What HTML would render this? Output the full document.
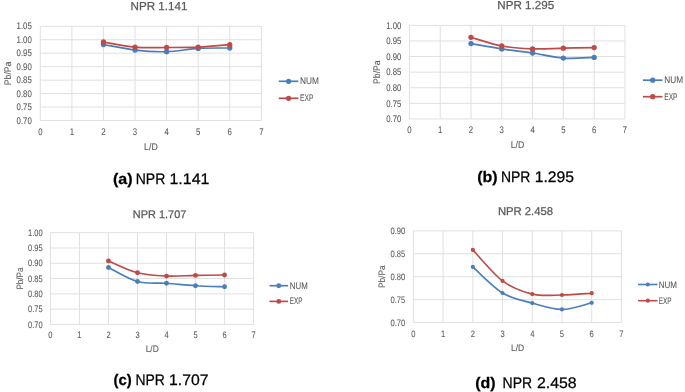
<!DOCTYPE html>
<html lang="en">
<head>
<meta charset="utf-8">
<title>Pb/Pa versus L/D for four nozzle pressure ratios</title>
<style>
html,body{margin:0;padding:0;background:#fff;}
body{width:685px;height:392px;overflow:hidden;}
svg{display:block;font-family:"Liberation Sans", sans-serif;text-rendering:geometricPrecision;}
</style>
</head>
<body>
<svg width="685" height="392" viewBox="0 0 685 392">
<defs><filter id="soft" x="0" y="0" width="100%" height="100%" filterUnits="userSpaceOnUse" primitiveUnits="userSpaceOnUse"><feGaussianBlur stdDeviation="0.45"/></filter><filter id="softer" x="0" y="0" width="100%" height="100%" filterUnits="userSpaceOnUse" primitiveUnits="userSpaceOnUse"><feGaussianBlur stdDeviation="0.55"/></filter></defs>
<rect width="685" height="392" fill="#ffffff"/>
<g filter="url(#soft)">
<g>
<path d="M40.3 26.3H261.35M40.3 39.76H261.35M40.3 53.21H261.35M40.3 66.67H261.35M40.3 80.13H261.35M40.3 93.59H261.35M40.3 107.04H261.35M40.3 120.5H261.35M40.3 26.3V120.5M71.88 26.3V120.5M103.46 26.3V120.5M135.04 26.3V120.5M166.61 26.3V120.5M198.19 26.3V120.5M229.77 26.3V120.5M261.35 26.3V120.5" stroke="#e0e0e0" stroke-width="1" fill="none" filter="url(#softer)"/>
<g font-size="9.6" fill="#595959" stroke="#595959" stroke-width="0.08" text-anchor="end">
<text x="31.8" y="29.45" textLength="15.2" lengthAdjust="spacingAndGlyphs">1.05</text>
<text x="31.8" y="42.91" textLength="15.2" lengthAdjust="spacingAndGlyphs">1.00</text>
<text x="31.8" y="56.36" textLength="15.2" lengthAdjust="spacingAndGlyphs">0.95</text>
<text x="31.8" y="69.82" textLength="15.2" lengthAdjust="spacingAndGlyphs">0.90</text>
<text x="31.8" y="83.28" textLength="15.2" lengthAdjust="spacingAndGlyphs">0.85</text>
<text x="31.8" y="96.73" textLength="15.2" lengthAdjust="spacingAndGlyphs">0.80</text>
<text x="31.8" y="110.19" textLength="15.2" lengthAdjust="spacingAndGlyphs">0.75</text>
<text x="31.8" y="123.65" textLength="15.2" lengthAdjust="spacingAndGlyphs">0.70</text>
</g>
<g font-size="9.6" fill="#595959" stroke="#595959" stroke-width="0.08" text-anchor="middle">
<text x="40.3" y="135.25" textLength="4.35" lengthAdjust="spacingAndGlyphs">0</text>
<text x="71.88" y="135.25" textLength="4.35" lengthAdjust="spacingAndGlyphs">1</text>
<text x="103.46" y="135.25" textLength="4.35" lengthAdjust="spacingAndGlyphs">2</text>
<text x="135.04" y="135.25" textLength="4.35" lengthAdjust="spacingAndGlyphs">3</text>
<text x="166.61" y="135.25" textLength="4.35" lengthAdjust="spacingAndGlyphs">4</text>
<text x="198.19" y="135.25" textLength="4.35" lengthAdjust="spacingAndGlyphs">5</text>
<text x="229.77" y="135.25" textLength="4.35" lengthAdjust="spacingAndGlyphs">6</text>
<text x="261.35" y="135.25" textLength="4.35" lengthAdjust="spacingAndGlyphs">7</text>
</g>
<text x="150.9" y="150.35" font-size="9.6" fill="#595959" stroke="#595959" stroke-width="0.08" text-anchor="middle" textLength="13.6" lengthAdjust="spacingAndGlyphs">L/D</text>
<text transform="translate(11.28 73.4) rotate(-90)" x="0" y="0" font-size="9.6" fill="#595959" stroke="#595959" stroke-width="0.08" text-anchor="middle" textLength="23.6" lengthAdjust="spacingAndGlyphs">Pb/Pa</text>
<text x="159" y="9.8" font-size="11.6" fill="#595959" stroke="#595959" stroke-width="0.25" text-anchor="middle" textLength="57" lengthAdjust="spacingAndGlyphs">NPR 1.141</text>
<path d="M103.46 44.5 C108.72 45.43 124.51 48.9 135.04 50.1 C145.56 51.3 156.09 51.98 166.61 51.7 C177.14 51.42 187.67 49.02 198.19 48.4 C208.72 47.78 224.51 48.07 229.77 48" stroke="#4a7ebb" stroke-width="1.7" fill="none" stroke-linecap="round" stroke-linejoin="round"/>
<g fill="#4a7ebb"><circle cx="103.46" cy="44.5" r="2.65"/><circle cx="135.04" cy="50.1" r="2.65"/><circle cx="166.61" cy="51.7" r="2.65"/><circle cx="198.19" cy="48.4" r="2.65"/><circle cx="229.77" cy="48" r="2.65"/></g>
<path d="M103.46 42 C108.72 42.85 124.51 46.18 135.04 47.1 C145.56 48.02 156.09 47.5 166.61 47.5 C177.14 47.5 187.67 47.57 198.19 47.1 C208.72 46.63 224.51 45.1 229.77 44.7" stroke="#be4b48" stroke-width="1.7" fill="none" stroke-linecap="round" stroke-linejoin="round"/>
<g fill="#be4b48"><circle cx="103.46" cy="42" r="2.65"/><circle cx="135.04" cy="47.1" r="2.65"/><circle cx="166.61" cy="47.5" r="2.65"/><circle cx="198.19" cy="47.1" r="2.65"/><circle cx="229.77" cy="44.7" r="2.65"/></g>
<path d="M278.8 81.3H298.4" stroke="#4a7ebb" stroke-width="1.7"/>
<circle cx="288.6" cy="81.3" r="2.65" fill="#4a7ebb"/>
<text x="300.1" y="84.45" font-size="9.6" fill="#595959" stroke="#595959" stroke-width="0.08" textLength="18.9" lengthAdjust="spacingAndGlyphs">NUM</text>
<path d="M278.8 98.3H298.4" stroke="#be4b48" stroke-width="1.7"/>
<circle cx="288.6" cy="98.3" r="2.65" fill="#be4b48"/>
<text x="300.1" y="101.45" font-size="9.6" fill="#595959" stroke="#595959" stroke-width="0.08" textLength="13.23" lengthAdjust="spacingAndGlyphs">EXP</text>
<g font-size="15.3" fill="#000" stroke="#000" stroke-width="0.25">
<text x="112.91" y="183.9" textLength="19.58" lengthAdjust="spacingAndGlyphs" font-weight="bold">(a)</text>
<text x="135.71" y="183.9" textLength="29.6" lengthAdjust="spacingAndGlyphs">NPR</text>
<text x="169.47" y="183.9" textLength="40" lengthAdjust="spacingAndGlyphs">1.141</text>
</g>
</g>
<g>
<path d="M409.4 25.35H624.95M409.4 40.95H624.95M409.4 56.55H624.95M409.4 72.15H624.95M409.4 87.75H624.95M409.4 103.35H624.95M409.4 118.95H624.95M409.4 25.35V118.95M440.19 25.35V118.95M470.99 25.35V118.95M501.78 25.35V118.95M532.57 25.35V118.95M563.36 25.35V118.95M594.16 25.35V118.95M624.95 25.35V118.95" stroke="#e0e0e0" stroke-width="1" fill="none" filter="url(#softer)"/>
<g font-size="9.6" fill="#595959" stroke="#595959" stroke-width="0.08" text-anchor="end">
<text x="401.3" y="28.5" textLength="15.1" lengthAdjust="spacingAndGlyphs">1.00</text>
<text x="401.3" y="44.1" textLength="15.1" lengthAdjust="spacingAndGlyphs">0.95</text>
<text x="401.3" y="59.7" textLength="15.1" lengthAdjust="spacingAndGlyphs">0.90</text>
<text x="401.3" y="75.3" textLength="15.1" lengthAdjust="spacingAndGlyphs">0.85</text>
<text x="401.3" y="90.9" textLength="15.1" lengthAdjust="spacingAndGlyphs">0.80</text>
<text x="401.3" y="106.5" textLength="15.1" lengthAdjust="spacingAndGlyphs">0.75</text>
<text x="401.3" y="122.1" textLength="15.1" lengthAdjust="spacingAndGlyphs">0.70</text>
</g>
<g font-size="9.6" fill="#595959" stroke="#595959" stroke-width="0.08" text-anchor="middle">
<text x="409.4" y="133.45" textLength="4.32" lengthAdjust="spacingAndGlyphs">0</text>
<text x="440.19" y="133.45" textLength="4.32" lengthAdjust="spacingAndGlyphs">1</text>
<text x="470.99" y="133.45" textLength="4.32" lengthAdjust="spacingAndGlyphs">2</text>
<text x="501.78" y="133.45" textLength="4.32" lengthAdjust="spacingAndGlyphs">3</text>
<text x="532.57" y="133.45" textLength="4.32" lengthAdjust="spacingAndGlyphs">4</text>
<text x="563.36" y="133.45" textLength="4.32" lengthAdjust="spacingAndGlyphs">5</text>
<text x="594.16" y="133.45" textLength="4.32" lengthAdjust="spacingAndGlyphs">6</text>
<text x="624.95" y="133.45" textLength="4.32" lengthAdjust="spacingAndGlyphs">7</text>
</g>
<text x="517.5" y="148.15" font-size="9.6" fill="#595959" stroke="#595959" stroke-width="0.08" text-anchor="middle" textLength="13.6" lengthAdjust="spacingAndGlyphs">L/D</text>
<text transform="translate(379.68 72.15) rotate(-90)" x="0" y="0" font-size="9.6" fill="#595959" stroke="#595959" stroke-width="0.08" text-anchor="middle" textLength="23.6" lengthAdjust="spacingAndGlyphs">Pb/Pa</text>
<text x="525.7" y="9.1" font-size="11.6" fill="#595959" stroke="#595959" stroke-width="0.25" text-anchor="middle" textLength="56.9" lengthAdjust="spacingAndGlyphs">NPR 1.295</text>
<path d="M470.99 43.6 C476.12 44.48 491.51 47.33 501.78 48.9 C512.04 50.47 522.31 51.47 532.57 53 C542.84 54.53 553.1 57.37 563.36 58.1 C573.63 58.83 589.02 57.52 594.16 57.4" stroke="#4a7ebb" stroke-width="1.7" fill="none" stroke-linecap="round" stroke-linejoin="round"/>
<g fill="#4a7ebb"><circle cx="470.99" cy="43.6" r="2.65"/><circle cx="501.78" cy="48.9" r="2.65"/><circle cx="532.57" cy="53" r="2.65"/><circle cx="563.36" cy="58.1" r="2.65"/><circle cx="594.16" cy="57.4" r="2.65"/></g>
<path d="M470.99 37.3 C476.12 38.75 491.51 44.07 501.78 46 C512.04 47.93 522.31 48.53 532.57 48.9 C542.84 49.27 553.1 48.42 563.36 48.2 C573.63 47.98 589.02 47.7 594.16 47.6" stroke="#be4b48" stroke-width="1.7" fill="none" stroke-linecap="round" stroke-linejoin="round"/>
<g fill="#be4b48"><circle cx="470.99" cy="37.3" r="2.65"/><circle cx="501.78" cy="46" r="2.65"/><circle cx="532.57" cy="48.9" r="2.65"/><circle cx="563.36" cy="48.2" r="2.65"/><circle cx="594.16" cy="47.6" r="2.65"/></g>
<path d="M642.9 80.2H662.5" stroke="#4a7ebb" stroke-width="1.7"/>
<circle cx="652.7" cy="80.2" r="2.65" fill="#4a7ebb"/>
<text x="664.3" y="83.35" font-size="9.6" fill="#595959" stroke="#595959" stroke-width="0.08" textLength="18.8" lengthAdjust="spacingAndGlyphs">NUM</text>
<path d="M642.9 96.7H662.5" stroke="#be4b48" stroke-width="1.7"/>
<circle cx="652.7" cy="96.7" r="2.65" fill="#be4b48"/>
<text x="664.3" y="99.85" font-size="9.6" fill="#595959" stroke="#595959" stroke-width="0.08" textLength="13.16" lengthAdjust="spacingAndGlyphs">EXP</text>
<g font-size="15.3" fill="#000" stroke="#000" stroke-width="0.25">
<text x="477.21" y="181.8" textLength="20.38" lengthAdjust="spacingAndGlyphs" font-weight="bold">(b)</text>
<text x="501.01" y="181.8" textLength="29.4" lengthAdjust="spacingAndGlyphs">NPR</text>
<text x="534.67" y="181.8" textLength="39.44" lengthAdjust="spacingAndGlyphs">1.295</text>
</g>
</g>
<g>
<path d="M50.45 232.65H253.55M50.45 247.95H253.55M50.45 263.25H253.55M50.45 278.55H253.55M50.45 293.85H253.55M50.45 309.15H253.55M50.45 324.45H253.55M50.45 232.65V324.45M79.46 232.65V324.45M108.48 232.65V324.45M137.49 232.65V324.45M166.51 232.65V324.45M195.52 232.65V324.45M224.54 232.65V324.45M253.55 232.65V324.45" stroke="#e0e0e0" stroke-width="1" fill="none" filter="url(#softer)"/>
<g font-size="9.3" fill="#595959" stroke="#595959" stroke-width="0.08" text-anchor="end">
<text x="42.6" y="235.7" textLength="14.6" lengthAdjust="spacingAndGlyphs">1.00</text>
<text x="42.6" y="251" textLength="14.6" lengthAdjust="spacingAndGlyphs">0.95</text>
<text x="42.6" y="266.3" textLength="14.6" lengthAdjust="spacingAndGlyphs">0.90</text>
<text x="42.6" y="281.6" textLength="14.6" lengthAdjust="spacingAndGlyphs">0.85</text>
<text x="42.6" y="296.9" textLength="14.6" lengthAdjust="spacingAndGlyphs">0.80</text>
<text x="42.6" y="312.2" textLength="14.6" lengthAdjust="spacingAndGlyphs">0.75</text>
<text x="42.6" y="327.5" textLength="14.6" lengthAdjust="spacingAndGlyphs">0.70</text>
</g>
<g font-size="9.3" fill="#595959" stroke="#595959" stroke-width="0.08" text-anchor="middle">
<text x="50.45" y="338.15" textLength="4.18" lengthAdjust="spacingAndGlyphs">0</text>
<text x="79.46" y="338.15" textLength="4.18" lengthAdjust="spacingAndGlyphs">1</text>
<text x="108.48" y="338.15" textLength="4.18" lengthAdjust="spacingAndGlyphs">2</text>
<text x="137.49" y="338.15" textLength="4.18" lengthAdjust="spacingAndGlyphs">3</text>
<text x="166.51" y="338.15" textLength="4.18" lengthAdjust="spacingAndGlyphs">4</text>
<text x="195.52" y="338.15" textLength="4.18" lengthAdjust="spacingAndGlyphs">5</text>
<text x="224.54" y="338.15" textLength="4.18" lengthAdjust="spacingAndGlyphs">6</text>
<text x="253.55" y="338.15" textLength="4.18" lengthAdjust="spacingAndGlyphs">7</text>
</g>
<text x="152.2" y="351.55" font-size="9.3" fill="#595959" stroke="#595959" stroke-width="0.08" text-anchor="middle" textLength="13.1" lengthAdjust="spacingAndGlyphs">L/D</text>
<text transform="translate(22.89 278.55) rotate(-90)" x="0" y="0" font-size="9.3" fill="#595959" stroke="#595959" stroke-width="0.08" text-anchor="middle" textLength="22" lengthAdjust="spacingAndGlyphs">Pb/Pa</text>
<text x="159.6" y="217.5" font-size="10.95" fill="#595959" stroke="#595959" stroke-width="0.25" text-anchor="middle" textLength="53.5" lengthAdjust="spacingAndGlyphs">NPR 1.707</text>
<path d="M108.48 267.5 C113.31 269.83 127.82 278.87 137.49 281.5 C147.16 284.13 156.84 282.6 166.51 283.3 C176.18 284 185.85 285.12 195.52 285.7 C205.19 286.28 219.7 286.62 224.54 286.8" stroke="#4a7ebb" stroke-width="1.65" fill="none" stroke-linecap="round" stroke-linejoin="round"/>
<g fill="#4a7ebb"><circle cx="108.48" cy="267.5" r="2.45"/><circle cx="137.49" cy="281.5" r="2.45"/><circle cx="166.51" cy="283.3" r="2.45"/><circle cx="195.52" cy="285.7" r="2.45"/><circle cx="224.54" cy="286.8" r="2.45"/></g>
<path d="M108.48 260.9 C113.31 262.88 127.82 270.27 137.49 272.8 C147.16 275.33 156.84 275.67 166.51 276.1 C176.18 276.53 185.85 275.58 195.52 275.4 C205.19 275.22 219.7 275.07 224.54 275" stroke="#be4b48" stroke-width="1.65" fill="none" stroke-linecap="round" stroke-linejoin="round"/>
<g fill="#be4b48"><circle cx="108.48" cy="260.9" r="2.45"/><circle cx="137.49" cy="272.8" r="2.45"/><circle cx="166.51" cy="276.1" r="2.45"/><circle cx="195.52" cy="275.4" r="2.45"/><circle cx="224.54" cy="275" r="2.45"/></g>
<path d="M269.5 285.7H288.1" stroke="#4a7ebb" stroke-width="1.65"/>
<circle cx="278.8" cy="285.7" r="2.45" fill="#4a7ebb"/>
<text x="289.8" y="288.75" font-size="9.3" fill="#595959" stroke="#595959" stroke-width="0.08" textLength="17.9" lengthAdjust="spacingAndGlyphs">NUM</text>
<path d="M269.5 301.4H288.1" stroke="#be4b48" stroke-width="1.65"/>
<circle cx="278.8" cy="301.4" r="2.45" fill="#be4b48"/>
<text x="289.8" y="304.45" font-size="9.3" fill="#595959" stroke="#595959" stroke-width="0.08" textLength="12.53" lengthAdjust="spacingAndGlyphs">EXP</text>
<g font-size="15.3" fill="#000" stroke="#000" stroke-width="0.25">
<text x="113.41" y="385.4" textLength="18.28" lengthAdjust="spacingAndGlyphs" font-weight="bold">(c)</text>
<text x="135.41" y="385.4" textLength="29.4" lengthAdjust="spacingAndGlyphs">NPR</text>
<text x="169.07" y="385.4" textLength="39.44" lengthAdjust="spacingAndGlyphs">1.707</text>
</g>
</g>
<g>
<path d="M413.4 230.9H621.4M413.4 253.81H621.4M413.4 276.73H621.4M413.4 299.64H621.4M413.4 322.55H621.4M413.4 230.9V322.55M443.11 230.9V322.55M472.83 230.9V322.55M502.54 230.9V322.55M532.26 230.9V322.55M561.97 230.9V322.55M591.69 230.9V322.55M621.4 230.9V322.55" stroke="#e0e0e0" stroke-width="1" fill="none" filter="url(#softer)"/>
<g font-size="9.4" fill="#595959" stroke="#595959" stroke-width="0.08" text-anchor="end">
<text x="405.3" y="233.98" textLength="14.8" lengthAdjust="spacingAndGlyphs">0.90</text>
<text x="405.3" y="256.9" textLength="14.8" lengthAdjust="spacingAndGlyphs">0.85</text>
<text x="405.3" y="279.81" textLength="14.8" lengthAdjust="spacingAndGlyphs">0.80</text>
<text x="405.3" y="302.72" textLength="14.8" lengthAdjust="spacingAndGlyphs">0.75</text>
<text x="405.3" y="325.63" textLength="14.8" lengthAdjust="spacingAndGlyphs">0.70</text>
</g>
<g font-size="9.4" fill="#595959" stroke="#595959" stroke-width="0.08" text-anchor="middle">
<text x="413.4" y="337.08" textLength="4.23" lengthAdjust="spacingAndGlyphs">0</text>
<text x="443.11" y="337.08" textLength="4.23" lengthAdjust="spacingAndGlyphs">1</text>
<text x="472.83" y="337.08" textLength="4.23" lengthAdjust="spacingAndGlyphs">2</text>
<text x="502.54" y="337.08" textLength="4.23" lengthAdjust="spacingAndGlyphs">3</text>
<text x="532.26" y="337.08" textLength="4.23" lengthAdjust="spacingAndGlyphs">4</text>
<text x="561.97" y="337.08" textLength="4.23" lengthAdjust="spacingAndGlyphs">5</text>
<text x="591.69" y="337.08" textLength="4.23" lengthAdjust="spacingAndGlyphs">6</text>
<text x="621.4" y="337.08" textLength="4.23" lengthAdjust="spacingAndGlyphs">7</text>
</g>
<text x="517.6" y="351.18" font-size="9.4" fill="#595959" stroke="#595959" stroke-width="0.08" text-anchor="middle" textLength="13.3" lengthAdjust="spacingAndGlyphs">L/D</text>
<text transform="translate(384.72 276.73) rotate(-90)" x="0" y="0" font-size="9.4" fill="#595959" stroke="#595959" stroke-width="0.08" text-anchor="middle" textLength="22.6" lengthAdjust="spacingAndGlyphs">Pb/Pa</text>
<text x="525.5" y="215.4" font-size="11.3" fill="#595959" stroke="#595959" stroke-width="0.25" text-anchor="middle" textLength="55.2" lengthAdjust="spacingAndGlyphs">NPR 2.458</text>
<path d="M472.83 266.9 C477.78 271.25 492.64 286.97 502.54 293 C512.45 299.03 522.35 300.37 532.26 303.1 C542.16 305.83 552.07 309.45 561.97 309.4 C571.88 309.35 586.73 303.9 591.69 302.8" stroke="#4a7ebb" stroke-width="1.6" fill="none" stroke-linecap="round" stroke-linejoin="round"/>
<g fill="#4a7ebb"><circle cx="472.83" cy="266.9" r="2.1"/><circle cx="502.54" cy="293" r="2.1"/><circle cx="532.26" cy="303.1" r="2.1"/><circle cx="561.97" cy="309.4" r="2.1"/><circle cx="591.69" cy="302.8" r="2.1"/></g>
<path d="M472.83 249.9 C477.78 255.07 492.64 273.53 502.54 280.9 C512.45 288.27 522.35 291.75 532.26 294.1 C542.16 296.45 552.07 295.15 561.97 295 C571.88 294.85 586.73 293.5 591.69 293.2" stroke="#be4b48" stroke-width="1.6" fill="none" stroke-linecap="round" stroke-linejoin="round"/>
<g fill="#be4b48"><circle cx="472.83" cy="249.9" r="2.1"/><circle cx="502.54" cy="280.9" r="2.1"/><circle cx="532.26" cy="294.1" r="2.1"/><circle cx="561.97" cy="295" r="2.1"/><circle cx="591.69" cy="293.2" r="2.1"/></g>
<path d="M638.1 284.5H657.5" stroke="#4a7ebb" stroke-width="1.6"/>
<circle cx="647.8" cy="284.5" r="2.1" fill="#4a7ebb"/>
<text x="658.7" y="287.58" font-size="9.4" fill="#595959" stroke="#595959" stroke-width="0.08" textLength="18.3" lengthAdjust="spacingAndGlyphs">NUM</text>
<path d="M638.1 300.7H657.5" stroke="#be4b48" stroke-width="1.6"/>
<circle cx="647.8" cy="300.7" r="2.1" fill="#be4b48"/>
<text x="658.7" y="303.78" font-size="9.4" fill="#595959" stroke="#595959" stroke-width="0.08" textLength="12.81" lengthAdjust="spacingAndGlyphs">EXP</text>
<g font-size="15.3" fill="#000" stroke="#000" stroke-width="0.25">
<text x="475.21" y="388.2" textLength="20.38" lengthAdjust="spacingAndGlyphs" font-weight="bold">(d)</text>
<text x="502.51" y="388.2" textLength="29.6" lengthAdjust="spacingAndGlyphs">NPR</text>
<text x="536.94" y="388.2" textLength="39.67" lengthAdjust="spacingAndGlyphs">2.458</text>
</g>
</g>
</g>
</svg>
</body>
</html>
